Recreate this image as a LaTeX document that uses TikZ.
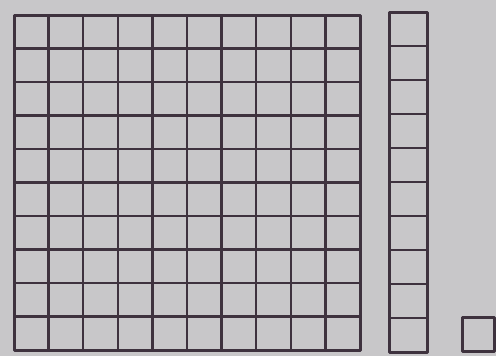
\documentclass[tikz,border=0pt]{standalone}
\definecolor{paper}{RGB}{200,199,201}
\definecolor{ink}{RGB}{62,50,62}
\tikzset{
  outer/.style={draw=ink, line width=3pt, line join=round},
  inner/.style={draw=ink, line width=2.3pt},
}
\begin{document}
\begin{tikzpicture}[x=1pt,y=-1pt]
  \fill[paper] (0,0) rectangle (496,356);
  \useasboundingbox (0,0) rectangle (496,356);
  % hundred square
  \foreach \i in {1,...,9} {
    \draw[inner] ({14+\i*34.6},15) -- ({14+\i*34.6},350);
    \draw[inner] (14,{15+\i*33.5}) -- (360,{15+\i*33.5});
  }
  \draw[outer] (14,15) rectangle (360,350);
  % ten rod
  \foreach \i in {1,...,9} {
    \draw[inner] (389,{12+\i*34}) -- (427,{12+\i*34});
  }
  \draw[outer] (389,12) rectangle (427,352);
  % unit
  \draw[outer] (462,317) rectangle (494,351);
\end{tikzpicture}
\end{document}
